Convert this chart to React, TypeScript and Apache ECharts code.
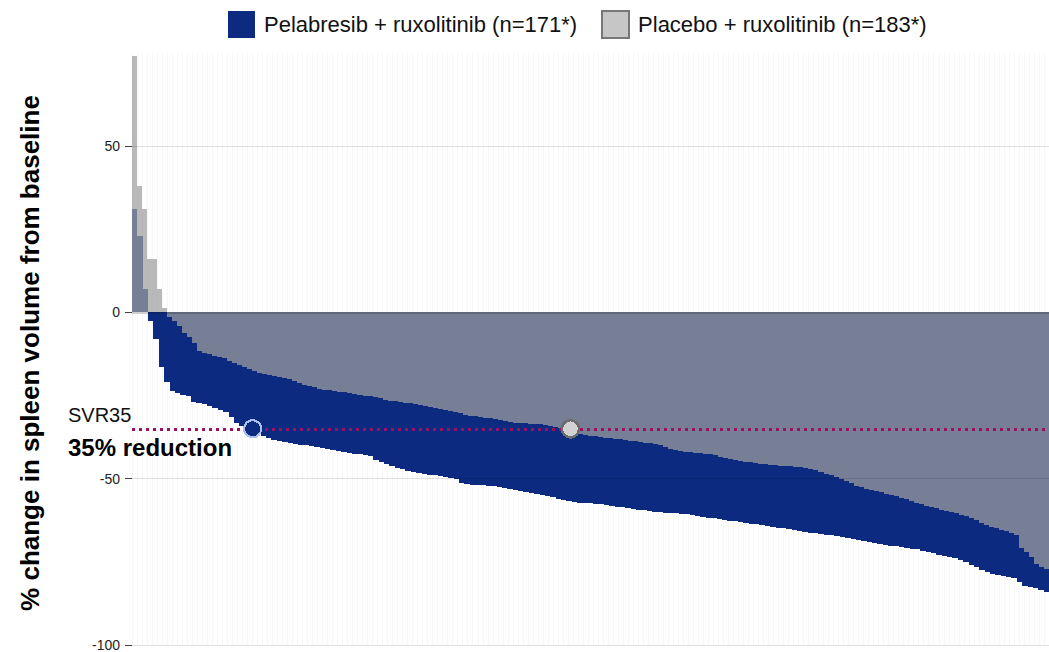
import React, { useEffect, useRef } from "react";
import * as echarts from "echarts";

const pelabresibChange: number[] = [
  31, 23, 7, -2.5, -8, -16.5, -21, -23.5, -24.3, -24.7,
  -25.1, -26.8, -27.1, -27.4, -28.0, -28.8, -29.4, -29.9, -31.5, -33.4,
  -34.1, -34.6, -35.2, -36.2, -37.2, -37.8, -38.4, -38.8, -39.1, -39.3,
  -39.5, -39.8, -40.0, -40.2, -40.5, -40.8, -41.1, -41.5, -41.8, -42.0,
  -42.2, -42.5, -42.7, -43.0, -43.3, -44.5, -45.1, -45.7, -46.3, -46.8,
  -47.2, -47.6, -48.0, -48.3, -48.5, -48.8, -49.0, -49.3, -49.5, -49.8,
  -50.1, -51.3, -51.7, -51.8, -51.9, -52.0, -52.1, -52.3, -52.5, -52.8,
  -53.1, -53.4, -53.7, -54.0, -54.3, -54.6, -54.9, -55.2, -55.6, -56.0,
  -56.3, -56.7, -57.0, -57.2, -57.3, -57.4, -57.5, -57.7, -57.9, -58.2,
  -58.4, -58.6, -58.9, -59.1, -59.3, -59.5, -59.7, -59.9, -60.1, -60.2,
  -60.3, -60.4, -60.6, -60.7, -60.9, -61.1, -61.4, -61.7, -61.9, -62.2,
  -62.4, -62.6, -62.8, -63.0, -63.3, -63.5, -63.7, -64.0, -64.2, -64.5,
  -64.7, -64.9, -65.2, -65.4, -65.7, -65.9, -66.2, -66.4, -66.6, -66.8,
  -66.9, -67.1, -67.4, -67.8, -68.2, -68.5, -68.8, -69.1, -69.4, -69.7,
  -70.0, -70.2, -70.3, -70.5, -70.7, -71.0, -71.2, -71.6, -72.0, -72.4,
  -72.8, -73.2, -73.6, -73.9, -74.5, -75.1, -75.8, -76.6, -77.4, -78.2,
  -78.7, -79.0, -79.3, -79.6, -79.9, -81.0, -82.4, -82.6, -82.9, -83.4,
  -84.0,
];

const placeboChange: number[] = [
  77, 38, 31, 16, 16, 7, 1.2, -1.5, -2.6, -4.2,
  -6.2, -7.4, -9.2, -11.6, -12.1, -12.6, -13.0, -13.3, -13.8, -14.5,
  -15.2, -15.7, -16.3, -16.9, -17.6, -18.2, -18.6, -18.9, -19.2, -19.5,
  -19.8, -20.1, -20.7, -21.3, -21.8, -22.1, -22.5, -22.9, -23.2, -23.4,
  -23.6, -23.8, -23.9, -24.2, -24.6, -24.9, -25.0, -25.1, -25.4, -25.8,
  -26.2, -26.5, -26.7, -26.9, -27.1, -27.3, -27.6, -27.8, -28.1, -28.4,
  -28.7, -29.0, -29.3, -29.6, -29.9, -30.3, -30.8, -31.0, -31.2, -31.4,
  -31.6, -31.8, -32.0, -32.2, -32.5, -32.8, -33.1, -33.2, -33.4, -33.5,
  -33.6, -33.7, -33.9, -34.1, -34.4, -34.7, -35.2, -35.8, -36.3, -36.7,
  -36.9, -37.1, -37.3, -37.5, -37.7, -37.8, -38.0, -38.2, -38.4, -38.6,
  -38.8, -39.0, -39.2, -39.3, -39.5, -39.8, -40.6, -41.0, -41.3, -41.6,
  -41.9, -42.1, -42.2, -42.3, -42.5, -42.7, -43.0, -43.4, -43.7, -44.0,
  -44.3, -44.6, -44.9, -45.1, -45.3, -45.5, -45.7, -45.9, -46.0, -46.1,
  -46.2, -46.3, -46.4, -46.6, -46.8, -47.0, -47.5, -48.0, -48.6, -49.0,
  -49.5, -50.0, -50.7, -51.4, -52.1, -52.6, -53.0, -53.3, -53.7, -54.1,
  -54.5, -54.9, -55.3, -55.7, -56.2, -56.7, -57.2, -57.7, -58.2, -58.6,
  -58.9, -59.3, -59.6, -59.9, -60.4, -60.8, -61.3, -61.8, -62.5, -63.2,
  -63.8, -64.4, -64.9, -65.3, -65.8, -66.2, -67.0, -70.8, -72.0, -73.5,
  -75.6, -76.4, -77.1,
];

const yTicks: number[] = [-100, -50, 0, 50];
const svrThreshold = -35;
const pelabresibSvrIndex = 22;
const placeboSvrIndex = 87;

const seriesNames = [
  "Pelabresib + ruxolitinib (n=171*)",
  "Placebo + ruxolitinib (n=183*)",
];

const NAVY = "#0c2a80";
const FONT = "'Liberation Sans', Arial, sans-serif";

export default function App() {
  const ref = useRef<HTMLDivElement>(null);

  useEffect(() => {
    if (!ref.current) return;
    const chart = echarts.init(ref.current, null, { renderer: "svg" });
    const pelCats = pelabresibChange.map((_, i) => String(i));
    const plaCats = placeboChange.map((_, i) => String(i));

    const staticGraphics: any[] = [
      {
        id: "ytitle",
        type: "text",
        x: 30,
        y: 353,
        rotation: Math.PI / 2,
        style: {
          text: "% change in spleen volume from baseline",
          font: `bold 26px ${FONT}`,
          fill: "#000",
          textAlign: "center",
          textVerticalAlign: "middle",
        },
      },
      {
        id: "svr",
        type: "text",
        x: 68,
        y: 415,
        style: {
          text: "SVR35",
          font: `20px ${FONT}`,
          fill: "#111",
          textAlign: "left",
          textVerticalAlign: "middle",
        },
      },
      {
        id: "svrred",
        type: "text",
        x: 68,
        y: 447,
        style: {
          text: "35% reduction",
          font: `bold 24px ${FONT}`,
          fill: "#000",
          textAlign: "left",
          textVerticalAlign: "middle",
        },
      },
    ];

    const option: any = {
      animation: false,
      textStyle: { fontFamily: FONT },
      legend: {
        left: 223,
        top: 5,
        itemWidth: 27,
        itemHeight: 27,
        itemGap: 24,
        icon: "rect",
        textStyle: { fontSize: 22, color: "#111", fontFamily: FONT, padding: [0, 0, 0, 4] },
        data: [
          { name: seriesNames[0], itemStyle: { color: NAVY, borderWidth: 0 } },
          {
            name: seriesNames[1],
            itemStyle: { color: "#c6c6c6", opacity: 1, borderColor: "#777", borderWidth: 2 },
          },
        ],
      },
      grid: { left: 132, right: 0, top: 53, bottom: 5.7, containLabel: false },
      xAxis: [
        { type: "category", data: pelCats, show: false },
        {
          type: "category",
          data: plaCats,
          axisLine: { show: false },
          axisTick: { show: false },
          axisLabel: { show: false },
          splitLine: {
            show: true,
            interval: 0,
            lineStyle: { color: "rgba(0,0,0,0.03)", width: 1 },
          },
        },
      ],
      yAxis: {
        type: "value",
        min: -100,
        max: 78,
        axisLine: { show: false },
        axisTick: {
          show: true,
          length: 7,
          customValues: yTicks,
          lineStyle: { color: "#444" },
        },
        axisLabel: {
          customValues: yTicks,
          fontSize: 14,
          color: "#222",
          margin: 12,
          fontFamily: FONT,
        },
        splitLine: { show: false },
      },
      series: [
        {
          name: seriesNames[0],
          type: "bar",
          xAxisIndex: 0,
          data: pelabresibChange,
          barCategoryGap: "0%",
          barWidth: "100%",
          itemStyle: { color: NAVY },
          z: 2,
        },
        {
          name: seriesNames[1],
          type: "bar",
          xAxisIndex: 1,
          data: placeboChange,
          barCategoryGap: "0%",
          barWidth: "100%",
          itemStyle: { color: "rgba(159,159,159,0.73)" },
          z: 3,
          markLine: {
            silent: true,
            symbol: ["none", "none"],
            label: { show: false },
            lineStyle: { color: "rgba(0,0,0,0.12)", width: 1, type: "solid" },
            data: yTicks.map((v) => ({
              yAxis: v,
              lineStyle: v === 0 ? { width: 2, color: "rgba(0,0,0,0.18)" } : undefined,
            })),
          },
        },
        {
          name: "svr-line",
          type: "line",
          xAxisIndex: 1,
          data: [],
          z: 5,
          markLine: {
            silent: true,
            symbol: ["none", "none"],
            label: { show: false },
            lineStyle: { color: "#9b1060", width: 3, type: [3, 4] },
            data: [{ yAxis: svrThreshold }],
          },
        },
      ],
      graphic: staticGraphics,
    };
    chart.setOption(option);

    const pelPt = chart.convertToPixel({ xAxisIndex: 0, yAxisIndex: 0 } as any, [
      pelabresibSvrIndex,
      svrThreshold,
    ]) as number[];
    const plaPt = chart.convertToPixel({ xAxisIndex: 1, yAxisIndex: 0 } as any, [
      placeboSvrIndex,
      svrThreshold,
    ]) as number[];
    chart.setOption({
      graphic: [
        ...staticGraphics,
        {
          id: "pelDot",
          type: "circle",
          z: 100,
          shape: { cx: pelPt[0], cy: pelPt[1], r: 8.5 },
          style: { fill: NAVY, stroke: "#a9c1f2", lineWidth: 2.2 },
        },
        {
          id: "plaDot",
          type: "circle",
          z: 100,
          shape: { cx: plaPt[0], cy: plaPt[1], r: 8.5 },
          style: { fill: "#d2d2d2", stroke: "#6c6c6c", lineWidth: 2.5 },
        },
      ],
    });
    return () => chart.dispose();
  }, []);

  return (
    <>
      <style>{"#root svg path { shape-rendering: crispEdges; }"}</style>
      <div
        ref={ref}
        style={{ position: "absolute", left: 0, top: 0, width: 1049, height: 652, background: "#fff" }}
      />
    </>
  );
}
